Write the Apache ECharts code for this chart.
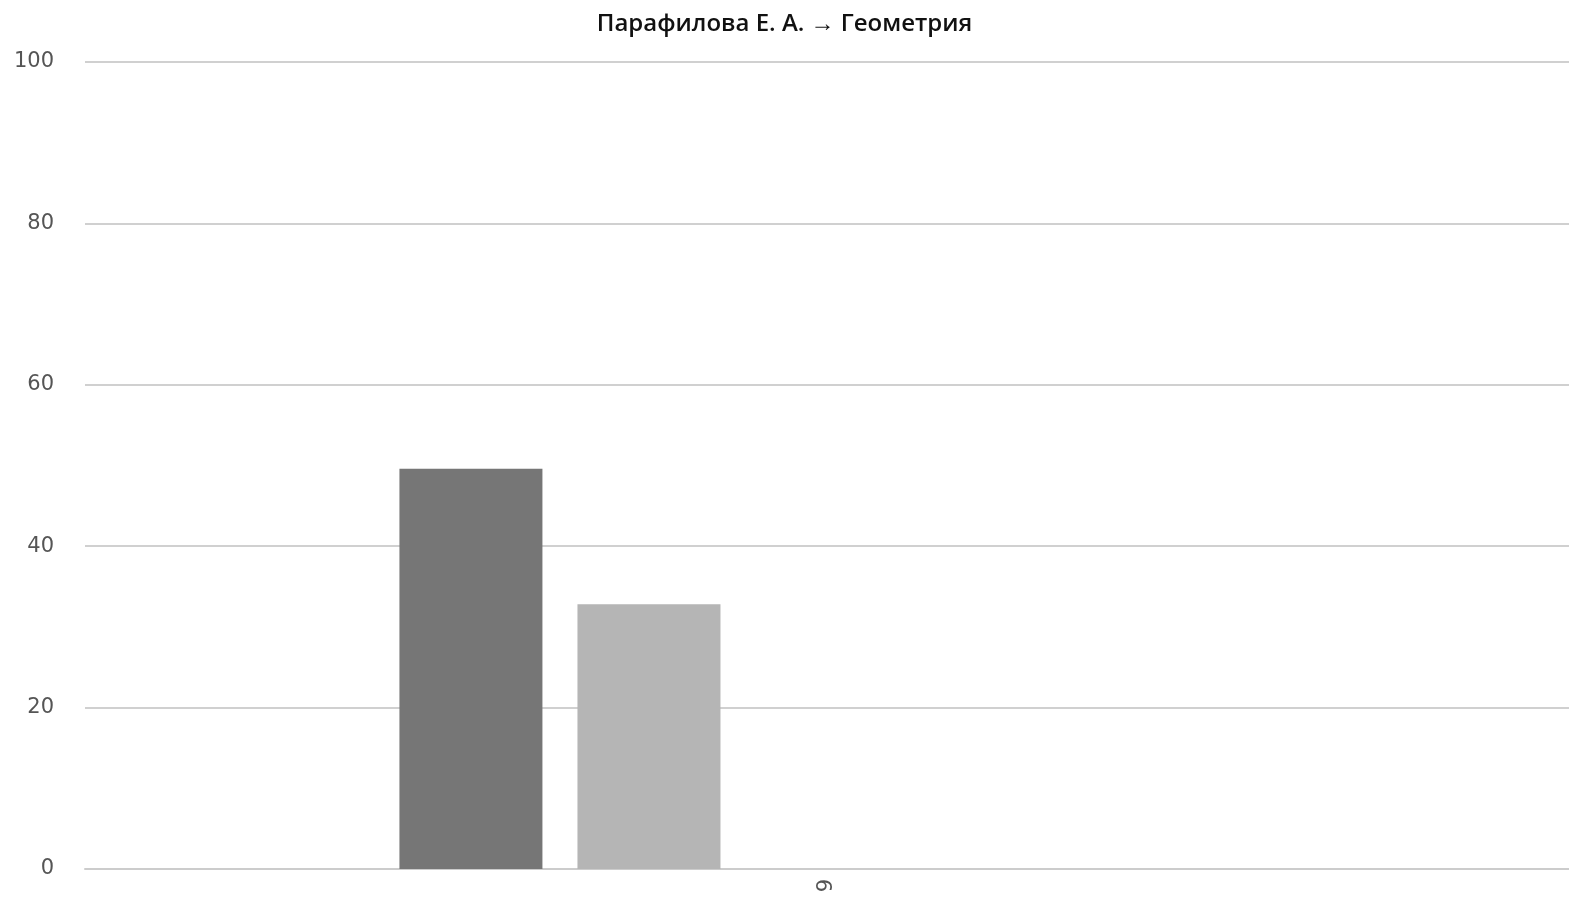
<!DOCTYPE html>
<html><head><meta charset="utf-8">
<script src="https://cdn.jsdelivr.net/npm/echarts@6/dist/echarts.min.js"></script>
<style>html,body{margin:0;padding:0;background:#fff}#c{width:1569px;height:901px}</style>
</head><body><div id="c"></div>
<script>
var title = 'Парафилова Е. А. → Геометрия';
var categories = ['9'];
var seriesA = [49.6];
var seriesB = [32.8];
var seriesC = [0];
var seriesD = [0];
var seriesE = [0];
var colors = ['#767676', '#b5b5b5', '#909090', '#a0a0a0', '#c0c0c0'];
var chart = echarts.init(document.getElementById('c'));
var all = [seriesA, seriesB, seriesC, seriesD, seriesE];
chart.setOption({
  animation: false,
  title: {text: title, left: 'center', top: 7, textStyle: {fontFamily: 'Open Sans', fontSize: 24, fontWeight: 600, color: '#111'}},
  grid: {left: 85, right: -4, top: 62, bottom: 32},
  xAxis: {type: 'category', data: categories,
    axisLine: {lineStyle: {color: '#ccc', width: 2}}, axisTick: {show: false},
    axisLabel: {rotate: 90, color: '#555', fontFamily: 'DejaVu Sans', fontSize: 21, margin: 10}},
  yAxis: {type: 'value', min: 0, max: 100, interval: 20,
    axisLine: {show: false}, axisTick: {show: false},
    splitLine: {lineStyle: {color: '#d0d0d0', width: 2}},
    axisLabel: {color: '#555', fontFamily: 'DejaVu Sans', fontSize: 21, margin: 31, padding: [5, 0, 0, 0]}},
  series: all.map(function(d, i){ return {type: 'bar', data: d, barWidth: 143, barGap: '24.5%', itemStyle: {color: colors[i]}}; })
});
</script></body></html>
